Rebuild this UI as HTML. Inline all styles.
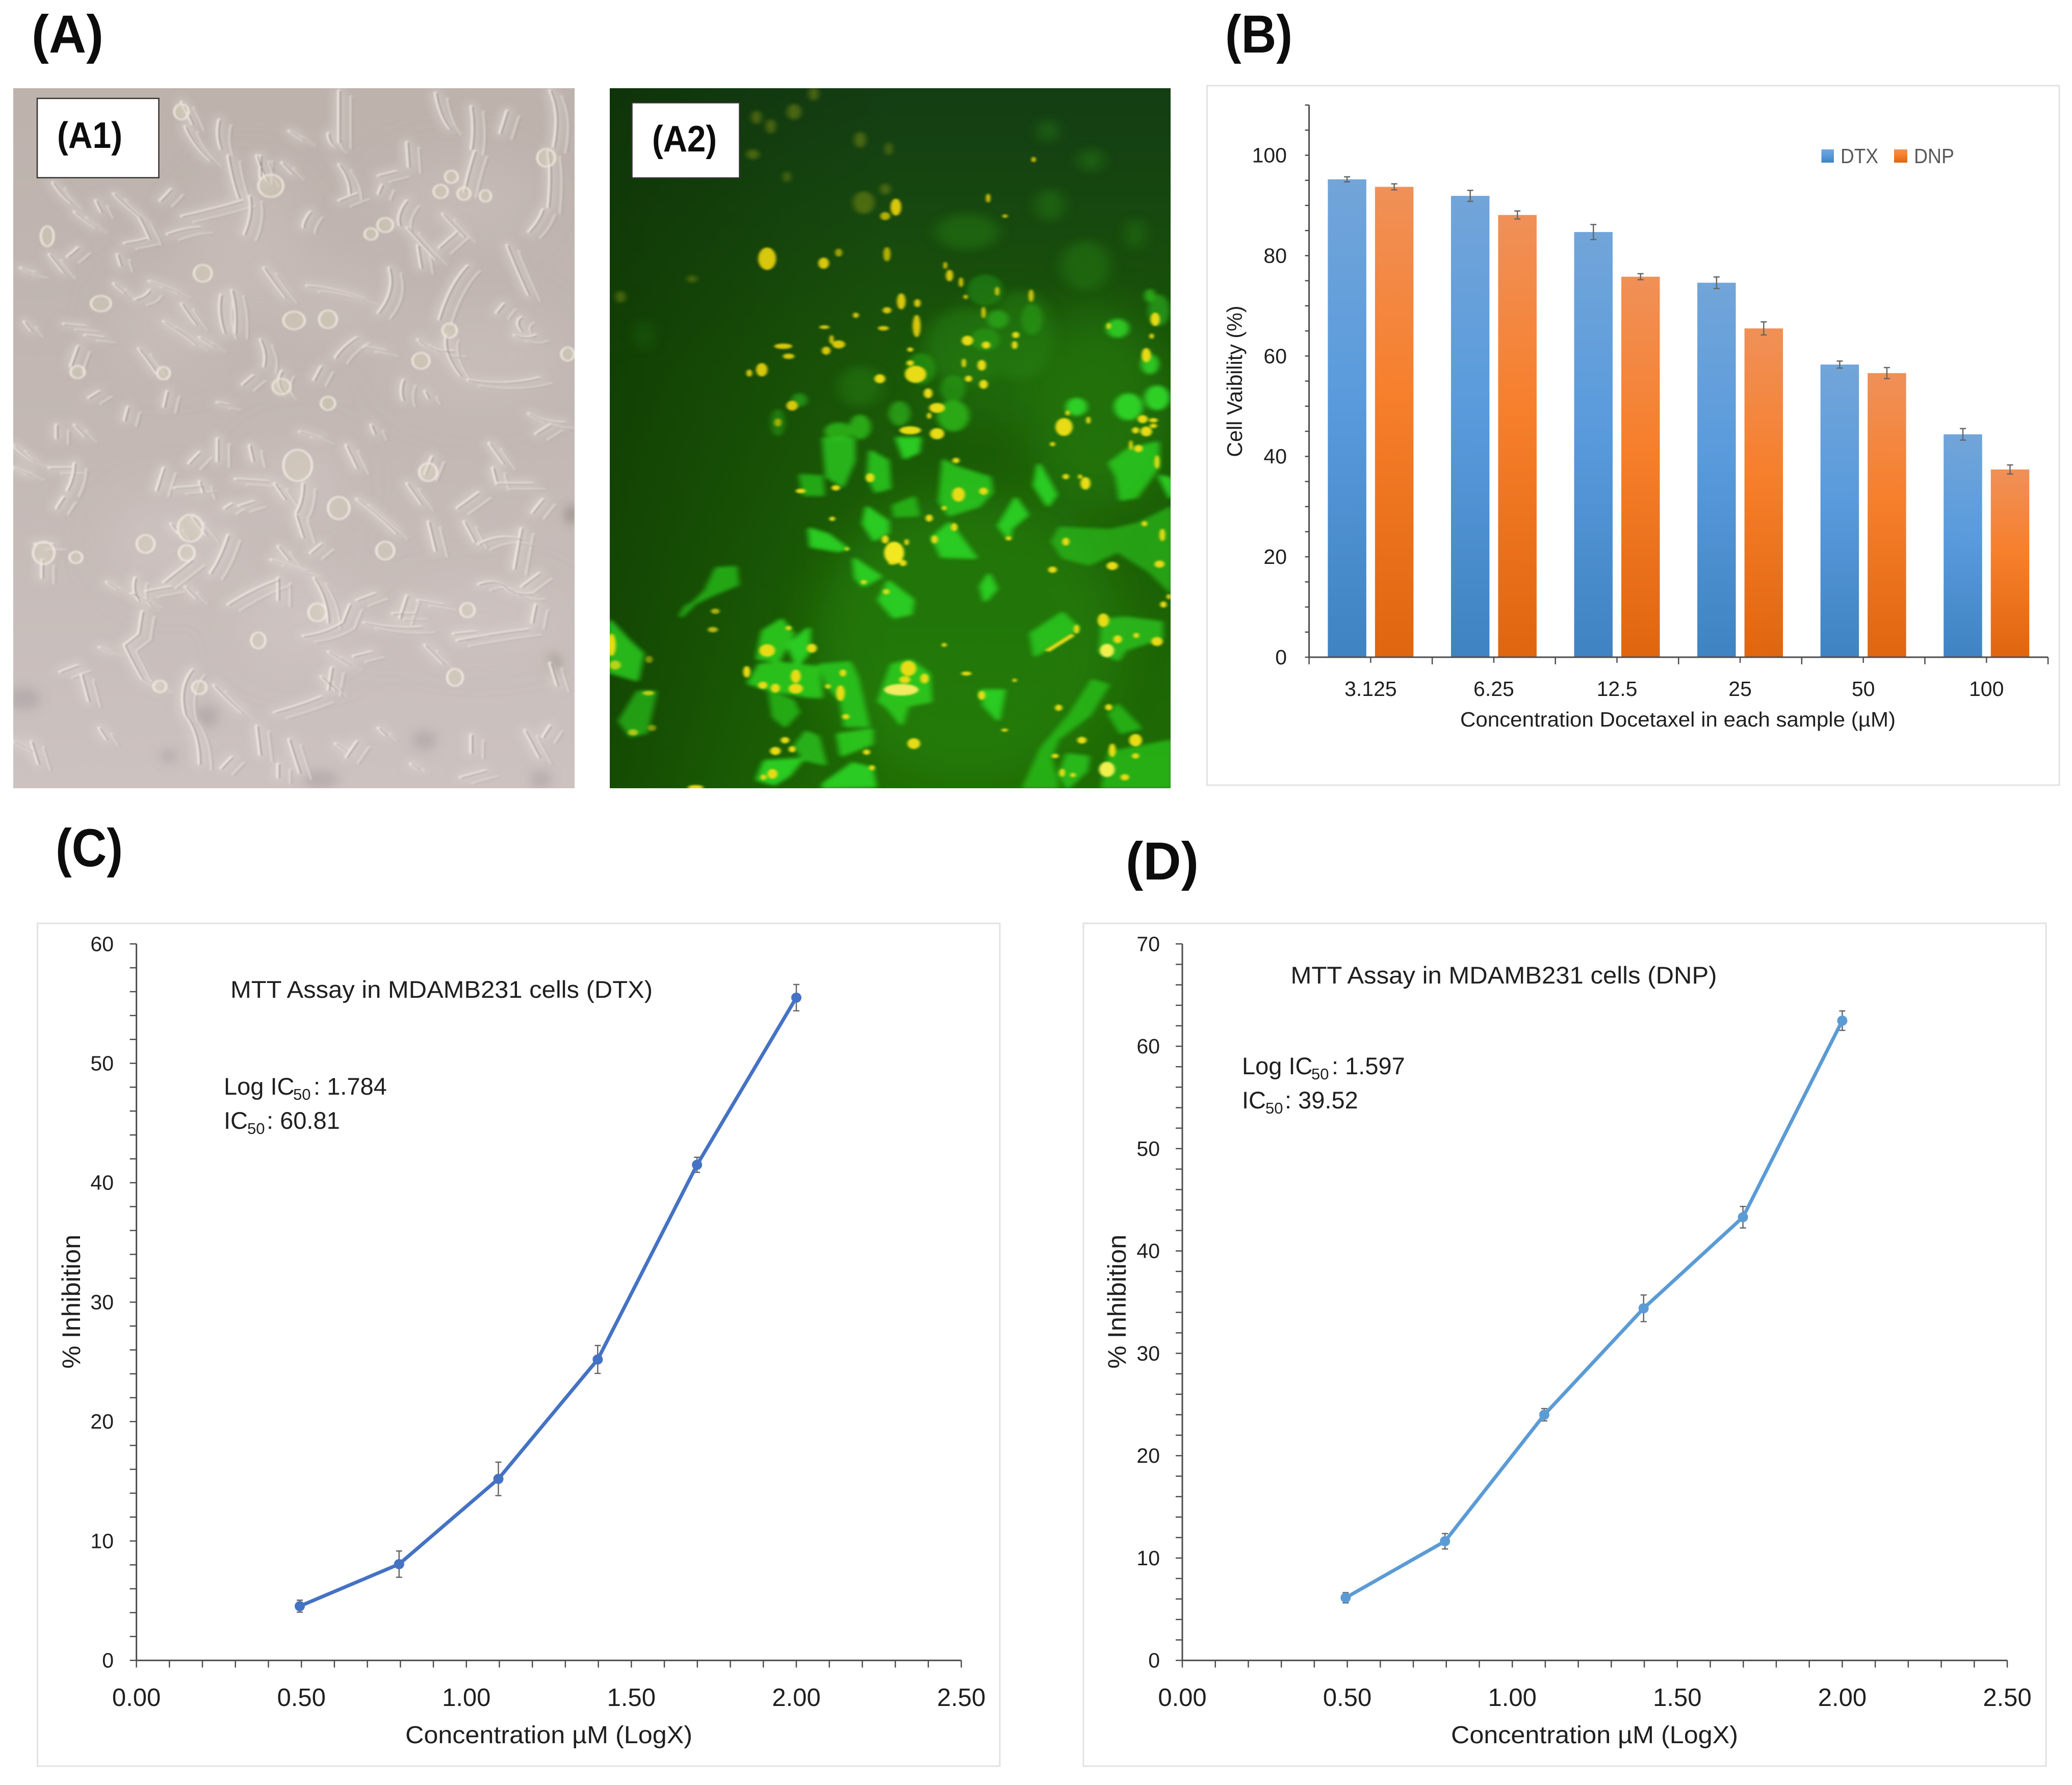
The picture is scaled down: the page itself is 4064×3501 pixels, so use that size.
<!DOCTYPE html>
<html lang="en">
<head>
<meta charset="utf-8">
<title>Cell viability and MTT assay figure</title>
<style>
html,body{margin:0;padding:0;background:#fff;width:4064px;height:3501px;overflow:hidden}
svg{display:block}
text{font-family:"Liberation Sans",Arial,sans-serif;fill:#1f1f1f}
.big{font-weight:700;font-size:105px;fill:#0c0c0c}
.small-label{font-weight:700;font-size:72px;fill:#0c0c0c}
.tl{font-size:47px}
.sub{font-size:31px}
.cell{fill:none;stroke-linecap:round}
</style>
</head>
<body>
<svg xmlns="http://www.w3.org/2000/svg" width="4064" height="3501" viewBox="0 0 4064 3501">
<defs>
<linearGradient id="gBlue" x1="0" y1="0" x2="0" y2="1"><stop offset="0" stop-color="#72a5d9"/><stop offset=".45" stop-color="#5a9bdc"/><stop offset="1" stop-color="#3f83c2"/></linearGradient>
<linearGradient id="gOrange" x1="0" y1="0" x2="0" y2="1"><stop offset="0" stop-color="#f09058"/><stop offset=".45" stop-color="#f67f2b"/><stop offset="1" stop-color="#e0650f"/></linearGradient>
<linearGradient id="a1bg" x1="0" y1="0" x2="0" y2="1"><stop offset="0" stop-color="#bdb2ac"/><stop offset=".5" stop-color="#c3b8b4"/><stop offset="1" stop-color="#ccc2c0"/></linearGradient>
<linearGradient id="a2bg" x1="0" y1="0" x2="0" y2="1"><stop offset="0" stop-color="#143d14"/><stop offset=".4" stop-color="#1a5608"/><stop offset="1" stop-color="#1f6c05"/></linearGradient>
<linearGradient id="a2left" x1="0" y1="0" x2="1" y2="0"><stop offset="0" stop-color="#0a2a00" stop-opacity=".5"/><stop offset=".33" stop-color="#0a2a00" stop-opacity=".15"/><stop offset=".5" stop-color="#0a2a00" stop-opacity="0"/></linearGradient>
<filter id="bYellow" x="-20%" y="-20%" width="140%" height="140%"><feGaussianBlur stdDeviation="4"/></filter>
<filter id="bGreen" x="-20%" y="-20%" width="140%" height="140%"><feGaussianBlur stdDeviation="8"/></filter>
<filter id="bSoft" x="-30%" y="-30%" width="160%" height="160%"><feGaussianBlur stdDeviation="20"/></filter>
<filter id="bWide" x="-30%" y="-30%" width="160%" height="160%"><feGaussianBlur stdDeviation="45"/></filter>
<filter id="bBlot" x="-30%" y="-30%" width="160%" height="160%"><feGaussianBlur stdDeviation="10"/></filter>
<filter id="bHalo" x="-10%" y="-10%" width="120%" height="120%"><feGaussianBlur stdDeviation="9"/></filter>
<filter id="b1" x="-10%" y="-10%" width="120%" height="120%"><feGaussianBlur stdDeviation="1.5"/></filter>
<clipPath id="clipA1"><rect x="26" y="173" width="1101" height="1373"/></clipPath>
<clipPath id="clipA2"><rect x="1196" y="173" width="1100" height="1373"/></clipPath>
<path id="cellsTop" d="M470 60q20 60 30 100M480 170q20 80 70 150M575 140q-10 70 5 130M600 300q10 100 30 190M680 300q10 60 30 110M660 480q10 80-15 170M640 500q-60 30-170 70M430 650q50-30 90-30M350 570q20 60 30 100M280 470q30 50 70 100M110 420q20 50 50 90M170 550q30 40 60 70M230 500l15 50M410 500q20-30 30-50M310 690q40-10 60-20M100 740q20 40 40 80M20 800q20 20 40 20M180 710q-20 30-30 40M290 740l10 50M280 870l30 40M380 860q40 20 80 50M340 940q30-10 40-40M470 960q20 50 40 90M580 920q-10 80 10 170M610 900q15 80 10 190M700 800q30 70 60 130M820 880q80 10 160 60M830 550q-20 40-20 70M910 340q30 60 30 130M910 500q30-20 50-30M910 10q0 100 0 230M880 200q0 40 20 60M770 190l40 40M750 330l30 50M690 300l0 100M1020 390l50-20M1030 430l-10 40M1100 240l5 110M1180 20q10 100 40 160M1280 80q10 100 0 190M1290 280q-20 100-30 180M1380 100l-20 100M1500 10q30 100 10 250M1495 280q10 100 0 250M1480 540q-10 50-40 100M1380 700q30 120 60 220M1270 790q-50 80-80 240M1100 620q40 70 80 140M1130 700l10 100M1240 640l-50 70M1050 800q20 100-30 200M1100 500q-30 60-20 110M1200 560q30 50 60 100M1420 1080q-20-40 0-60M1400 1100q30 20 60 0M1350 1000l20-40M1130 1120q40 60 100 50M1210 1100q-10 80 40 180M1270 1300q100 30 200-10M1440 1450q40 40 100 40M1090 1300q-10 50 0 90M1150 1350l10 30M960 1110q-40 40-60 90M980 1150l60 20M860 1240l-20 60M690 1120q20 60 10 120M640 1320l30-40M750 1260q-20 60 10 100M570 1400l30 10M430 1350l-10 70M350 1160q30 60 50 110M520 1110l40 40M420 1040q60 60 90 100M200 1100l50 10M140 1050l60 10M30 1040l20 40M180 1150l-20 90M210 1380l30-30M320 1420l-10 60M120 1500l0 60M170 1500l30 50M800 1530l60 30M1000 1500l10 40M1500 1500l-40 40"/>
<path id="cellsBottom" d="M0 30q40 60 60 70M0 130q30 20 50 30M100 130l60 0M170 110q0 60-20 120M120 310l20-50M420 130l-20 100M450 220l80-10M520 190l10 50M620 180l90 10M520 60l-30 50M570 0l0 100M660 30l10 70M590 310l20-20M630 300l40-20M730 200l30 70M810 200q0 80-20 130M790 340l20 100M930 30l30 100M960 270q60 70 110 150M1100 200l40 90M1170 80l-20 80M1330 20l40 90M1340 130l10 60M1350 200l100 0M1160 370l20 130M1260 370l30 90M1300 470q60-50 120-20M1420 400l-20 180M1480 270l-30 60M1240 310l60-70M1470 600l-50 60M1300 650q50-30 80 20q30 30 70 20M1460 740l-10 80M1240 900q100-30 200-50M1230 870l60-10M1150 920l50 80M980 820q80 30 160 20M1060 780l60 0M1130 720l70 20M1100 700l-20 100M960 720l50-30M940 740l-20 80q-50 50-110 60M840 620q40 100 40 200M740 620l0 100M600 740q80-80 140-110M720 540l100 50M740 480l30 60M830 510l30-40M360 770l-10 100l-40 50q30 100 50 150l50 40M500 1030q-40 80-20 200q40 80 40 220M560 1100q40 70 80 120M730 1220q70-30 130-70M860 1060l40 60M890 1020l-10 100M880 950l60 60M950 970l50-20M380 730l-50-40M340 620q-10 60 10 100M370 680l70-20M480 660l30 50M420 640l80-100M600 430q-20 100-50 170M440 380l20 40M500 350l40 80M130 1040l50-30M190 1050l20 120M240 930l30 20M240 1290l20 50M0 1350l50 40M50 1350l20 100M260 640l30 30M60 470l50 0M80 540l0 80M680 1280l10 130M770 1340l30 150M900 1360l30 30M960 1350l-30 70M1020 1290l20 30M1280 1320l0 80M1430 1300l40 120M1500 1280l-20 50M1250 1510l70-30M1110 1450l20 20M580 1470l30-50M740 1450l0 60M1500 1000l20 100"/>
</defs>

<rect width="4064" height="3501" fill="#ffffff"/>

<text class="big" x="62" y="103" textLength="141" lengthAdjust="spacingAndGlyphs">(A)</text>
<text class="big" x="2403" y="103" textLength="132" lengthAdjust="spacingAndGlyphs">(B)</text>
<text class="big" x="109" y="1699" textLength="132" lengthAdjust="spacingAndGlyphs">(C)</text>
<text class="big" x="2208" y="1725" textLength="143" lengthAdjust="spacingAndGlyphs">(D)</text>

<!-- A1 phase-contrast micrograph -->
<g clip-path="url(#clipA1)">
<rect x="26" y="173" width="1101" height="1373" fill="url(#a1bg)"/>
<g filter="url(#bWide)">
<g transform="translate(26,173) scale(.7015,.44)" fill="#d0c6c0" opacity=".4">
<ellipse cx="1250" cy="500" rx="220" ry="180"/><ellipse cx="650" cy="700" rx="160" ry="300"/><ellipse cx="1300" cy="1200" rx="240" ry="220"/><ellipse cx="430" cy="1050" rx="150" ry="200"/><ellipse cx="900" cy="950" rx="160" ry="140"/>
</g>
<g transform="translate(26,860) scale(.7015,.44)" fill="#d8cecb" opacity=".4">
<ellipse cx="1300" cy="800" rx="240" ry="130"/><ellipse cx="450" cy="450" rx="180" ry="200"/><ellipse cx="800" cy="200" rx="130" ry="170"/><ellipse cx="800" cy="800" rx="170" ry="200"/>
</g>
</g>
<g filter="url(#bBlot)">
<g transform="translate(26,860) scale(.7015,.44)">
<g fill="#a2979a" opacity=".45"><ellipse cx="1150" cy="1345" rx="35" ry="45"/><ellipse cx="30" cy="1160" rx="45" ry="50"/><ellipse cx="540" cy="1240" rx="35" ry="50"/><ellipse cx="860" cy="1520" rx="50" ry="40"/><ellipse cx="1475" cy="1520" rx="30" ry="40"/><ellipse cx="435" cy="1415" rx="25" ry="30"/></g>
<g fill="#7d7266" opacity=".6"><ellipse cx="1560" cy="340" rx="15" ry="40"/><ellipse cx="1510" cy="1010" rx="18" ry="45"/></g>
</g>
</g>
<g filter="url(#bHalo)">
<g transform="translate(26,173) scale(.7015,.44)"><use href="#cellsTop" class="cell" stroke="#d9d1cb" stroke-width="34" opacity=".6"/></g>
<g transform="translate(26,860) scale(.7015,.44)"><use href="#cellsBottom" class="cell" stroke="#ddd5d1" stroke-width="34" opacity=".6"/></g>
</g>
<g filter="url(#b1)">
<g transform="translate(26,173) scale(.7015,.44)">
<use href="#cellsTop" class="cell" stroke="#e8e1da" stroke-width="10" opacity=".5" x="34" y="26"/>
<use href="#cellsTop" class="cell" stroke="#867c79" stroke-width="3" opacity=".5" x="38" y="30"/>
<use href="#cellsTop" class="cell" stroke="#e8e1da" stroke-width="10"/>
<use href="#cellsTop" class="cell" stroke="#857b78" stroke-width="3" x="4" y="3"/>
<g fill="#d9d4b8" fill-opacity=".35" stroke="#ede7dd" stroke-width="6">
<ellipse cx="720" cy="435" rx="35" ry="50"/><ellipse cx="245" cy="960" rx="28" ry="35"/><ellipse cx="880" cy="1030" rx="25" ry="40"/><ellipse cx="785" cy="1035" rx="30" ry="40"/><ellipse cx="470" cy="105" rx="20" ry="35"/><ellipse cx="1225" cy="395" rx="18" ry="28"/><ellipse cx="1195" cy="460" rx="20" ry="30"/><ellipse cx="1260" cy="470" rx="18" ry="28"/><ellipse cx="1320" cy="480" rx="16" ry="26"/><ellipse cx="1040" cy="610" rx="22" ry="32"/><ellipse cx="1000" cy="650" rx="18" ry="26"/><ellipse cx="1140" cy="1215" rx="24" ry="36"/><ellipse cx="1550" cy="1185" rx="18" ry="30"/><ellipse cx="420" cy="1270" rx="18" ry="28"/><ellipse cx="180" cy="1265" rx="20" ry="28"/><ellipse cx="880" cy="1405" rx="20" ry="30"/><ellipse cx="530" cy="825" rx="25" ry="38"/><ellipse cx="95" cy="660" rx="18" ry="45"/><ellipse cx="750" cy="1330" rx="25" ry="35"/><ellipse cx="1490" cy="310" rx="25" ry="40"/><ellipse cx="1220" cy="1080" rx="20" ry="32"/>
</g></g>
<g transform="translate(26,860) scale(.7015,.44)">
<use href="#cellsBottom" class="cell" stroke="#ece5e0" stroke-width="10" opacity=".5" x="34" y="26"/>
<use href="#cellsBottom" class="cell" stroke="#8a807e" stroke-width="3" opacity=".5" x="38" y="30"/>
<use href="#cellsBottom" class="cell" stroke="#ece5e0" stroke-width="10"/>
<use href="#cellsBottom" class="cell" stroke="#8a807e" stroke-width="3" x="4" y="3"/>
<g fill="#ddd8bd" fill-opacity=".35" stroke="#f0eae3" stroke-width="6">
<ellipse cx="795" cy="120" rx="40" ry="70"/><ellipse cx="910" cy="310" rx="30" ry="50"/><ellipse cx="370" cy="470" rx="25" ry="40"/><ellipse cx="85" cy="510" rx="30" ry="50"/><ellipse cx="175" cy="530" rx="18" ry="26"/><ellipse cx="485" cy="510" rx="22" ry="35"/><ellipse cx="495" cy="400" rx="35" ry="60"/><ellipse cx="1270" cy="765" rx="20" ry="32"/><ellipse cx="850" cy="775" rx="25" ry="40"/><ellipse cx="685" cy="900" rx="20" ry="36"/><ellipse cx="1235" cy="1065" rx="22" ry="38"/><ellipse cx="1160" cy="150" rx="25" ry="40"/><ellipse cx="410" cy="1105" rx="18" ry="26"/><ellipse cx="520" cy="1110" rx="20" ry="30"/><ellipse cx="1040" cy="500" rx="25" ry="40"/>
</g></g>
</g>
</g>
<rect x="73" y="193" width="238.500" height="155.500" fill="#fff" stroke="#333" stroke-width="2.500"/>
<text class="small-label" x="112" y="290" textLength="128" lengthAdjust="spacingAndGlyphs">(A1)</text>

<!-- A2 fluorescence micrograph -->
<g clip-path="url(#clipA2)">
<rect x="1196" y="173" width="1100" height="1373" fill="url(#a2bg)"/>
<rect x="1196" y="173" width="1100" height="1373" fill="url(#a2left)"/>
<g filter="url(#bWide)" fill="#2a8f10" opacity=".45">
<ellipse cx="1900" cy="1250" rx="300" ry="280"/><ellipse cx="2150" cy="800" rx="140" ry="200"/><ellipse cx="1950" cy="720" rx="130" ry="110" opacity=".7"/>
</g>
<g transform="translate(1196,173) scale(.7015,.44)">
<g filter="url(#bSoft)" fill="#2a8a15" opacity=".4">
<ellipse cx="1230" cy="520" rx="40" ry="70"/><ellipse cx="1225" cy="190" rx="28" ry="50"/><ellipse cx="1345" cy="320" rx="35" ry="50"/><ellipse cx="1000" cy="640" rx="90" ry="80"/><ellipse cx="1330" cy="790" rx="70" ry="110"/><ellipse cx="1470" cy="650" rx="25" ry="70"/><ellipse cx="95" cy="1100" rx="30" ry="70" opacity=".5"/><ellipse cx="1000" cy="1150" rx="120" ry="170"/><ellipse cx="700" cy="1330" rx="60" ry="90"/><ellipse cx="1150" cy="1100" rx="90" ry="200"/>
</g>
<g filter="url(#bGreen)" fill="#8f9a14" opacity=".45">
<ellipse cx="515" cy="105" rx="20" ry="35"/><ellipse cx="410" cy="130" rx="14" ry="30"/><ellipse cx="450" cy="170" rx="14" ry="32"/><ellipse cx="400" cy="295" rx="18" ry="22"/><ellipse cx="570" cy="25" rx="14" ry="30"/><ellipse cx="780" cy="270" rx="10" ry="28"/><ellipse cx="700" cy="230" rx="16" ry="35"/><ellipse cx="710" cy="510" rx="30" ry="50"/><ellipse cx="770" cy="450" rx="14" ry="24"/><ellipse cx="495" cy="395" rx="10" ry="24"/><ellipse cx="230" cy="850" rx="14" ry="16"/><ellipse cx="30" cy="930" rx="14" ry="26"/>
</g>
<g filter="url(#bGreen)" fill="#2aa818">
<ellipse cx="1050" cy="900" rx="50" ry="70" opacity=".4"/><ellipse cx="1180" cy="1030" rx="30" ry="70" opacity=".5"/><ellipse cx="1085" cy="1030" rx="30" ry="40" opacity=".8"/><ellipse cx="1050" cy="1120" rx="40" ry="50" opacity=".5"/><ellipse cx="1420" cy="1070" rx="32" ry="42" fill="#2fc420"/><ellipse cx="1510" cy="1230" rx="25" ry="45" fill="#2fc420"/><ellipse cx="1510" cy="925" rx="15" ry="30"/><ellipse cx="1535" cy="990" rx="30" ry="70" opacity=".7"/><ellipse cx="1450" cy="1420" rx="40" ry="60" fill="#2fd025"/><ellipse cx="1530" cy="1380" rx="35" ry="55" fill="#2fd025"/><ellipse cx="1305" cy="1420" rx="30" ry="40" fill="#2fd025"/><ellipse cx="960" cy="1460" rx="45" ry="70"/><ellipse cx="810" cy="1450" rx="30" ry="55" opacity=".8"/><ellipse cx="700" cy="1510" rx="30" ry="55"/><ellipse cx="640" cy="1530" rx="40" ry="40"/><ellipse cx="530" cy="1390" rx="22" ry="30" opacity=".7"/><ellipse cx="470" cy="1490" rx="20" ry="60" opacity=".5"/><ellipse cx="960" cy="1340" rx="35" ry="60" opacity=".55"/><ellipse cx="870" cy="1250" rx="40" ry="70" opacity=".55"/>
</g>
<g filter="url(#bYellow)" fill="#d8c808">
<ellipse cx="440" cy="760" rx="25" ry="50"/><ellipse cx="598" cy="780" rx="15" ry="25"/><ellipse cx="640" cy="733" rx="10" ry="18" opacity=".7"/><ellipse cx="775" cy="740" rx="10" ry="32" opacity=".8"/><ellipse cx="1058" cy="490" rx="6" ry="20"/><ellipse cx="1105" cy="570" rx="7" ry="8"/><ellipse cx="1185" cy="318" rx="6" ry="12"/><ellipse cx="800" cy="530" rx="15" ry="38"/><ellipse cx="770" cy="570" rx="14" ry="18" opacity=".8"/><ellipse cx="815" cy="950" rx="12" ry="36"/><ellipse cx="860" cy="958" rx="9" ry="18"/><ellipse cx="858" cy="1060" rx="11" ry="50"/><ellipse cx="765" cy="1070" rx="15" ry="10"/><ellipse cx="775" cy="990" rx="12" ry="14"/><ellipse cx="688" cy="1012" rx="8" ry="12"/><ellipse cx="1178" cy="925" rx="7" ry="28"/><ellipse cx="1083" cy="905" rx="6" ry="20"/><ellipse cx="1045" cy="1000" rx="6" ry="26"/><ellipse cx="982" cy="865" rx="6" ry="22"/><ellipse cx="950" cy="835" rx="10" ry="26"/><ellipse cx="938" cy="790" rx="5" ry="16"/><ellipse cx="995" cy="930" rx="6" ry="10"/><ellipse cx="600" cy="1065" rx="14" ry="8"/><ellipse cx="485" cy="1150" rx="25" ry="12"/><ellipse cx="640" cy="1142" rx="18" ry="18"/><ellipse cx="605" cy="1170" rx="12" ry="18"/><ellipse cx="620" cy="1120" rx="6" ry="20"/><ellipse cx="500" cy="1195" rx="16" ry="12"/><ellipse cx="425" cy="1255" rx="16" ry="30"/><ellipse cx="390" cy="1270" rx="8" ry="16"/><ellipse cx="510" cy="1415" rx="16" ry="22"/><ellipse cx="470" cy="1490" rx="10" ry="18" opacity=".7"/>
</g>
<g filter="url(#bYellow)" fill="#e8dc18">
<ellipse cx="1000" cy="1125" rx="16" ry="22"/><ellipse cx="1052" cy="1145" rx="12" ry="16"/><ellipse cx="1135" cy="1100" rx="10" ry="14"/><ellipse cx="1132" cy="1145" rx="8" ry="18"/><ellipse cx="1040" cy="1235" rx="12" ry="24"/><ellipse cx="1003" cy="1295" rx="10" ry="14"/><ellipse cx="1045" cy="1320" rx="12" ry="20"/><ellipse cx="990" cy="1225" rx="6" ry="20"/><ellipse cx="840" cy="1165" rx="8" ry="10"/><ellipse cx="840" cy="1225" rx="10" ry="12"/><ellipse cx="855" cy="1275" rx="30" ry="38"/><ellipse cx="755" cy="1295" rx="15" ry="20"/><ellipse cx="890" cy="1360" rx="12" ry="22"/><ellipse cx="915" cy="1425" rx="22" ry="22"/><ellipse cx="893" cy="1460" rx="6" ry="14"/><ellipse cx="840" cy="1525" rx="30" ry="18"/><ellipse cx="915" cy="1540" rx="20" ry="25"/><ellipse cx="1270" cy="1510" rx="24" ry="40"/><ellipse cx="1280" cy="1447" rx="6" ry="12"/><ellipse cx="1338" cy="1480" rx="6" ry="16"/><ellipse cx="1490" cy="1475" rx="14" ry="18"/><ellipse cx="1520" cy="1480" rx="12" ry="10"/><ellipse cx="1500" cy="1530" rx="16" ry="22"/><ellipse cx="1470" cy="1525" rx="10" ry="14"/><ellipse cx="1520" cy="1505" rx="10" ry="10"/><ellipse cx="1500" cy="1190" rx="13" ry="32"/><ellipse cx="1525" cy="1030" rx="13" ry="30"/><ellipse cx="1515" cy="1105" rx="6" ry="12"/><ellipse cx="1395" cy="1060" rx="6" ry="14"/>
</g>
</g>
<g transform="translate(1196,860) scale(.7015,.44)">
<g filter="url(#bGreen)" fill="#2ccb20" stroke="#2ccb20" stroke-width="14" stroke-linejoin="round">
<path d="M560 405L610 430L660 490L640 500L565 480Z"/><path d="M685 540L755 615L710 655L690 620Z"/><path d="M720 310L775 370L775 420L740 450L712 380Z"/><path d="M780 640L845 720L840 780L795 795L755 720Z"/><path d="M795 300L850 265L860 340L800 345Z" opacity=".7"/><path d="M950 380L1020 530L930 525L905 440Z"/><path d="M1135 270L1165 340L1120 400L1115 440L1090 390Z"/><path d="M1200 120L1225 190L1245 250L1225 295L1190 210Z"/><path d="M1060 610L1078 670L1050 720L1040 660Z"/><path d="M935 100L970 130L1060 175L1065 240L1030 300L950 340L925 280Z" opacity=".85"/><path d="M730 60L775 100L780 220L745 235L725 170Z" opacity=".85"/><path d="M600 0L680 0L680 100L650 210L610 170Z" opacity=".8"/><path d="M805 0L865 0L860 60L825 85Z"/><path d="M535 165L590 170L595 250L545 250Z" opacity=".7"/><path d="M1260 400L1400 410L1480 380L1568 310L1568 680L1510 590L1420 500L1340 560L1270 530L1240 460Z" opacity=".6"/><path d="M1400 110L1450 50L1530 20L1530 130L1470 260L1430 270L1420 170Z" opacity=".85"/><path d="M1540 170L1568 180L1568 260Z"/><path d="M1265 780L1305 840L1290 870L1190 965L1180 870Z" opacity=".85"/><path d="M1380 810L1440 800L1540 820L1540 890L1440 940L1420 985L1375 950Z" opacity=".75"/><path d="M300 580L350 575L355 650L280 700L215 750L200 790L270 680Z" opacity=".7"/><path d="M0 815L50 900L90 960L75 1075L0 1040Z" opacity=".85"/><path d="M80 1130L125 1130L100 1310L60 1325L30 1260Z" opacity=".65"/><path d="M430 860L480 810L510 870L470 990L415 980Z" opacity=".9"/><path d="M500 920L555 850L555 950L525 1010Z"/><path d="M420 1010L470 1000L580 1020L590 1150L560 1150L450 1120L390 1090Z" opacity=".9"/><path d="M590 1010L670 1000L690 1070L720 1280L660 1280L650 1170L610 1100Z" opacity=".85"/><path d="M790 1010L840 990L890 1050L895 1170L830 1190L815 1270L780 1200L755 1170Z" opacity=".9"/><path d="M1040 1125L1100 1125L1085 1250L1050 1190Z"/><path d="M450 1130L510 1170L525 1220L490 1280L460 1240Z" opacity=".7"/><path d="M640 1320L730 1300L730 1360L650 1410Z" opacity=".9"/><path d="M550 1310L580 1330L600 1450L545 1430L520 1370Z" opacity=".75"/><path d="M435 1440L535 1430L500 1500L460 1540L415 1520Z"/><path d="M600 1540L680 1450L730 1470L740 1550L600 1555Z"/><path d="M1350 1080L1390 1100L1340 1230L1250 1340L1230 1420L1250 1555L1160 1555L1210 1380L1290 1230Z" opacity=".7"/><path d="M1420 1190L1480 1290L1430 1310L1400 1230Z" opacity=".7"/><path d="M1280 1410L1335 1420L1330 1480L1280 1555L1260 1500Z" opacity=".8"/><path d="M1400 1400L1568 1350L1568 1555L1380 1555Z" opacity=".7"/>
</g>
<g filter="url(#bYellow)" fill="#e8dc18">
<ellipse cx="5" cy="920" rx="12" ry="50"/><ellipse cx="15" cy="1010" rx="16" ry="20" opacity=".75"/><ellipse cx="110" cy="985" rx="10" ry="16" opacity=".5"/><ellipse cx="108" cy="1135" rx="16" ry="10" opacity=".8"/><ellipse cx="118" cy="1290" rx="12" ry="14" opacity=".5"/><ellipse cx="65" cy="1310" rx="14" ry="14" opacity=".7"/><ellipse cx="295" cy="770" rx="12" ry="12" opacity=".7"/><ellipse cx="288" cy="852" rx="14" ry="12" opacity=".75"/><ellipse cx="440" cy="945" rx="22" ry="28"/><ellipse cx="565" cy="935" rx="14" ry="20"/><ellipse cx="500" cy="845" rx="8" ry="10"/><ellipse cx="383" cy="1040" rx="10" ry="26"/><ellipse cx="428" cy="1100" rx="13" ry="16"/><ellipse cx="463" cy="1113" rx="13" ry="20"/><ellipse cx="520" cy="1060" rx="14" ry="30"/><ellipse cx="520" cy="1115" rx="20" ry="22"/><ellipse cx="652" cy="1045" rx="9" ry="16"/><ellipse cx="645" cy="1135" rx="12" ry="35"/><ellipse cx="610" cy="1105" rx="8" ry="10"/><ellipse cx="660" cy="1240" rx="10" ry="12"/><ellipse cx="835" cy="1025" rx="22" ry="34"/><ellipse cx="880" cy="1070" rx="12" ry="22"/><ellipse cx="815" cy="1120" rx="48" ry="26" fill="#f2ea60"/><ellipse cx="825" cy="1075" rx="16" ry="16"/><ellipse cx="490" cy="1345" rx="12" ry="14"/><ellipse cx="463" cy="1393" rx="15" ry="18"/><ellipse cx="510" cy="1385" rx="10" ry="14"/><ellipse cx="455" cy="1495" rx="14" ry="22"/><ellipse cx="430" cy="1510" rx="8" ry="12"/><ellipse cx="718" cy="1398" rx="10" ry="12"/><ellipse cx="733" cy="1468" rx="8" ry="12"/><ellipse cx="850" cy="1360" rx="18" ry="24"/><ellipse cx="997" cy="1048" rx="14" ry="9"/><ellipse cx="1132" cy="1078" rx="6" ry="8"/><ellipse cx="1040" cy="1145" rx="10" ry="20"/><ellipse cx="1255" cy="1200" rx="10" ry="14"/><ellipse cx="1395" cy="1198" rx="10" ry="14"/><ellipse cx="1104" cy="1300" rx="9" ry="7"/><ellipse cx="1320" cy="1345" rx="13" ry="15"/><ellipse cx="1470" cy="1345" rx="18" ry="28"/><ellipse cx="1405" cy="1390" rx="10" ry="30"/><ellipse cx="1470" cy="1415" rx="10" ry="12"/><ellipse cx="1245" cy="1415" rx="10" ry="10"/><ellipse cx="1390" cy="1475" rx="22" ry="34" fill="#f2f050"/><ellipse cx="1440" cy="1510" rx="12" ry="14"/><ellipse cx="1265" cy="1490" rx="8" ry="18"/><ellipse cx="1295" cy="1500" rx="8" ry="10"/><ellipse cx="1380" cy="810" rx="16" ry="30"/><ellipse cx="1390" cy="945" rx="20" ry="30" fill="#f2f050"/><ellipse cx="1420" cy="895" rx="12" ry="18"/><ellipse cx="1472" cy="878" rx="8" ry="12"/><ellipse cx="1530" cy="905" rx="16" ry="20"/><path d="M1215 945L1290 870L1300 880L1230 950Z"/><ellipse cx="1305" cy="850" rx="8" ry="20"/><ellipse cx="1238" cy="585" rx="12" ry="14"/><ellipse cx="1405" cy="568" rx="16" ry="18"/><ellipse cx="1537" cy="560" rx="14" ry="16"/><ellipse cx="1548" cy="740" rx="9" ry="14"/><ellipse cx="1563" cy="705" rx="6" ry="12"/><ellipse cx="1495" cy="380" rx="8" ry="12"/><ellipse cx="1545" cy="430" rx="8" ry="28"/><ellipse cx="1275" cy="460" rx="10" ry="18"/><ellipse cx="1330" cy="200" rx="14" ry="28"/><ellipse cx="1275" cy="170" rx="9" ry="12"/><ellipse cx="1315" cy="170" rx="6" ry="10"/><ellipse cx="1478" cy="45" rx="12" ry="16"/><ellipse cx="1457" cy="30" rx="5" ry="22"/><ellipse cx="1530" cy="105" rx="7" ry="30"/><ellipse cx="1238" cy="25" rx="7" ry="10"/><ellipse cx="1045" cy="235" rx="12" ry="16"/><ellipse cx="975" cy="250" rx="18" ry="32"/><ellipse cx="968" cy="98" rx="10" ry="12"/><ellipse cx="963" cy="395" rx="9" ry="18"/><ellipse cx="908" cy="450" rx="9" ry="18"/><ellipse cx="893" cy="355" rx="10" ry="16"/><ellipse cx="935" cy="310" rx="7" ry="10"/><ellipse cx="1115" cy="445" rx="8" ry="10"/><ellipse cx="830" cy="462" rx="6" ry="14"/><ellipse cx="770" cy="450" rx="10" ry="18"/><ellipse cx="795" cy="510" rx="28" ry="50" fill="#f2e820"/><ellipse cx="820" cy="555" rx="10" ry="14"/><ellipse cx="790" cy="555" rx="12" ry="8"/><ellipse cx="663" cy="492" rx="6" ry="8"/><ellipse cx="710" cy="640" rx="8" ry="10"/><ellipse cx="773" cy="683" rx="9" ry="12"/><ellipse cx="728" cy="175" rx="12" ry="20"/><ellipse cx="632" cy="220" rx="12" ry="12"/><ellipse cx="534" cy="234" rx="14" ry="10"/><ellipse cx="622" cy="358" rx="8" ry="10"/><ellipse cx="935" cy="920" rx="7" ry="9"/><ellipse cx="240" cy="1555" rx="22" ry="10"/>
</g>
</g>
</g>
<rect x="1239.500" y="201.500" width="211" height="147.500" fill="#fff" stroke="#333" stroke-width="2.500"/>
<text class="small-label" x="1279" y="297" textLength="127" lengthAdjust="spacingAndGlyphs">(A2)</text>

<!-- chart frames -->
<rect x="2367.500" y="168" width="1671.500" height="1372" fill="#fff" stroke="#e2e2e2" stroke-width="3"/>
<rect x="73.500" y="1811" width="1887.500" height="1653" fill="#fff" stroke="#e2e2e2" stroke-width="3"/>
<rect x="2125" y="1811" width="1888" height="1653" fill="#fff" stroke="#e2e2e2" stroke-width="3"/>

<g id="chartB"></g>
<g id="chartC"></g>
<g id="chartD"></g>

<!-- chart B text -->
<text x="3291" y="1425" font-size="41" text-anchor="middle" textLength="854" lengthAdjust="spacingAndGlyphs">Concentration Docetaxel in each sample (µM)</text>
<text transform="translate(2436,748) rotate(-90)" font-size="42" text-anchor="middle" textLength="297" lengthAdjust="spacingAndGlyphs">Cell Vaibility (%)</text>
<rect x="3572.500" y="293" width="24.500" height="26" fill="url(#gBlue)"/>
<text x="3610" y="320" font-size="41" style="fill:#595959" textLength="74" lengthAdjust="spacingAndGlyphs">DTX</text>
<rect x="3715" y="293" width="26" height="26" fill="url(#gOrange)"/>
<text x="3754" y="320" font-size="41" style="fill:#595959" textLength="79" lengthAdjust="spacingAndGlyphs">DNP</text>

<!-- chart C text -->
<text x="452" y="1957" font-size="47" textLength="828" lengthAdjust="spacingAndGlyphs">MTT Assay in MDAMB231 cells (DTX)</text>
<text y="2147"><tspan class="tl" x="439">Log IC</tspan><tspan class="sub" x="575" dy="10">50</tspan><tspan class="tl" x="615" dy="-10">: 1.784</tspan></text>
<text y="2214"><tspan class="tl" x="439">IC</tspan><tspan class="sub" x="485" dy="10">50</tspan><tspan class="tl" x="523" dy="-10">: 60.81</tspan></text>
<text x="1076.500" y="3419" font-size="48" text-anchor="middle" textLength="563" lengthAdjust="spacingAndGlyphs">Concentration µM (LogX)</text>
<text transform="translate(157,2553) rotate(-90)" font-size="50" text-anchor="middle" textLength="263" lengthAdjust="spacingAndGlyphs">% Inhibition</text>

<!-- chart D text -->
<text x="2531.500" y="1929" font-size="47" textLength="836" lengthAdjust="spacingAndGlyphs">MTT Assay in MDAMB231 cells (DNP)</text>
<text y="2107"><tspan class="tl" x="2436">Log IC</tspan><tspan class="sub" x="2572" dy="10">50</tspan><tspan class="tl" x="2612" dy="-10">: 1.597</tspan></text>
<text y="2174"><tspan class="tl" x="2436">IC</tspan><tspan class="sub" x="2482" dy="10">50</tspan><tspan class="tl" x="2520" dy="-10">: 39.52</tspan></text>
<text x="3127.500" y="3419" font-size="48" text-anchor="middle" textLength="563" lengthAdjust="spacingAndGlyphs">Concentration µM (LogX)</text>
<text transform="translate(2208,2553) rotate(-90)" font-size="50" text-anchor="middle" textLength="263" lengthAdjust="spacingAndGlyphs">% Inhibition</text>
</svg>

<script>
// ---- chart data ----
const barCategories = ['3.125', '6.25', '12.5', '25', '50', '100'];
const dtxViability = [95.2, 91.9, 84.7, 74.6, 58.3, 44.4];
const dnpViability = [93.7, 88.1, 75.8, 65.5, 56.6, 37.4];
const dtxViabilityErr = [0.5, 1.1, 1.5, 1.15, 0.7, 1.15];
const dnpViabilityErr = [0.6, 0.8, 0.6, 1.3, 1.1, 0.9];
const barYTickLabels = [0, 20, 40, 60, 80, 100];

const logConcentration = [0.495, 0.796, 1.097, 1.398, 1.699, 2.0];
const dtxInhibition = [4.54, 8.06, 15.2, 25.2, 41.5, 55.5];
const dtxInhibitionErr = [0.5, 1.1, 1.4, 1.17, 0.63, 1.1];
const dnpInhibition = [6.12, 11.64, 24.0, 34.4, 43.3, 62.5];
const dnpInhibitionErr = [0.5, 0.75, 0.6, 1.3, 1.05, 0.95];
const lineXTickLabels = ['0.00', '0.50', '1.00', '1.50', '2.00', '2.50'];
const dtxYTickLabels = [0, 10, 20, 30, 40, 50, 60];
const dnpYTickLabels = [0, 10, 20, 30, 40, 50, 60, 70];

const NS = 'http://www.w3.org/2000/svg';
const AXIS_COLOR = '#4d4d4d';

function make(parent, tag, attrs) {
  const el = document.createElementNS(NS, tag);
  for (const key in attrs) el.setAttribute(key, attrs[key]);
  parent.appendChild(el);
  return el;
}

function axisLine(parent, x1, y1, x2, y2) {
  const el = make(parent, 'line', { x1, y1, x2, y2, stroke: AXIS_COLOR, 'stroke-width': 3 });
  
  
}

function tickMark(parent, x1, y1, x2, y2) {
  const el = make(parent, 'line', { x1, y1, x2, y2, stroke: AXIS_COLOR, 'stroke-width': 2.5 });
  
  
}

function tickLabel(parent, x, y, str, size, anchor) {
  const el = make(parent, 'text', { x, y, 'font-size': size, 'text-anchor': anchor });
  el.textContent = str;
  
  
}

function errorBar(parent, cx, yHi, yLo) {
  const g = make(parent, 'g', { stroke: '#666', 'stroke-width': 2.5, fill: 'none' });
  
  
  make(g, 'line', { x1: cx, x2: cx, y1: yHi, y2: yLo });
  make(g, 'line', { x1: cx - 6, x2: cx + 6, y1: yHi, y2: yHi });
  make(g, 'line', { x1: cx - 6, x2: cx + 6, y1: yLo, y2: yLo });
}

// ---- Chart B: grouped bars ----
(function () {
  const root = document.getElementById('chartB');
  const left = 2567.6, right = 4017, bottom = 1289, top = 206;
  const yMax = 110;
  const yScale = v => bottom - (v / yMax) * (bottom - top);
  const band = (right - left) / barCategories.length;
  const bandCenter = i => left + band * (i + 0.5);
  const barW = 75.5, gap = 17;

  barCategories.forEach((label, i) => {
    const x1 = bandCenter(i) - gap / 2 - barW;
    const x2 = bandCenter(i) + gap / 2;

    const rectDtx = make(root, 'rect', { x: x1, y: yScale(dtxViability[i]), width: barW, height: bottom - yScale(dtxViability[i]), fill: 'url(#gBlue)' });
    
    

    const rectDnp = make(root, 'rect', { x: x2, y: yScale(dnpViability[i]), width: barW, height: bottom - yScale(dnpViability[i]), fill: 'url(#gOrange)' });
    
    

    errorBar(root, x1 + barW / 2, yScale(dtxViability[i] + dtxViabilityErr[i]), yScale(dtxViability[i] - dtxViabilityErr[i]));
    errorBar(root, x2 + barW / 2, yScale(dnpViability[i] + dnpViabilityErr[i]), yScale(dnpViability[i] - dnpViabilityErr[i]));

    tickLabel(root, bandCenter(i), 1365, label, 41, 'middle');
    tickMark(root, bandCenter(i), bottom, bandCenter(i), bottom + 11);
  });

  for (let i = 0; i <= barCategories.length; i++) {
    tickMark(root, left + band * i, bottom, left + band * i, bottom + 14);
  }
  for (let v = 0; v <= yMax; v += 5) {
    tickMark(root, left - 8, yScale(v), left, yScale(v));
  }
  barYTickLabels.forEach(v => tickLabel(root, 2524, yScale(v) + 14, String(v), 41, 'end'));
  axisLine(root, left, top, left, bottom);
  axisLine(root, left, bottom, right, bottom);
})();

// ---- Charts C and D: line charts ----
function drawLineChart(rootId, box, yLabels, values, errors, color) {
  const root = document.getElementById(rootId);
  const xMax = 2.5;
  const yMax = yLabels[yLabels.length - 1];
  const xScale = v => box.left + (v / xMax) * (box.right - box.left);
  const yScale = v => box.bottom - (v / yMax) * (box.bottom - box.top);

  for (let v = 0; v <= yMax; v += 2) {
    tickMark(root, box.left - 13, yScale(v), box.left, yScale(v));
  }
  for (let k = 0; k <= 25; k++) {
    tickMark(root, xScale(k / 10), box.bottom, xScale(k / 10), box.bottom + 14);
  }
  axisLine(root, box.left, box.top, box.left, box.bottom);
  axisLine(root, box.left, box.bottom, box.right, box.bottom);

  yLabels.forEach(v => tickLabel(root, box.labelRight, yScale(v) + 14, String(v), 41, 'end'));
  lineXTickLabels.forEach(s => tickLabel(root, xScale(parseFloat(s)), 3346, s, 49, 'middle'));

  logConcentration.forEach((xv, i) => {
    errorBar(root, xScale(xv), yScale(values[i] + errors[i]), yScale(values[i] - errors[i]));
  });

  const points = logConcentration.map((xv, i) => xScale(xv) + ',' + yScale(values[i])).join(' ');
  const line = make(root, 'polyline', { points, fill: 'none', stroke: color, 'stroke-width': 7, 'stroke-linejoin': 'round' });
  
  

  logConcentration.forEach((xv, i) => {
    const dot = make(root, 'circle', { cx: xScale(xv), cy: yScale(values[i]), r: 10, fill: color });
    
    
  });
}

drawLineChart('chartC', { left: 267.6, right: 1885.5, top: 1851.3, bottom: 3256.6, labelRight: 223 }, dtxYTickLabels, dtxInhibition, dtxInhibitionErr, '#4472c4');
drawLineChart('chartD', { left: 2319, right: 3937, top: 1851.3, bottom: 3256.6, labelRight: 2275 }, dnpYTickLabels, dnpInhibition, dnpInhibitionErr, '#5b9bd5');
</script>
</body>
</html>
